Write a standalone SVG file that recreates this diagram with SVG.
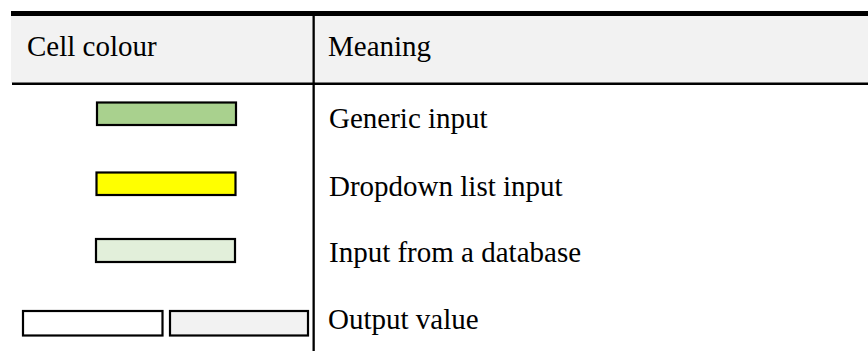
<svg xmlns="http://www.w3.org/2000/svg" width="868" height="351" viewBox="0 0 868 351">
<style>
text{font-family:"Liberation Serif","Times New Roman",serif;font-size:29px;fill:#000}
.sw{stroke:#000;stroke-width:2.2}
</style>
<rect width="868" height="351" fill="#fff"/>
<g id="table">
<rect x="11" y="16" width="857" height="67" fill="#f2f2f2"/>
<rect x="11" y="11" width="857" height="5" fill="#000"/>
<rect x="12" y="82.5" width="856" height="2.5" fill="#000"/>
<rect x="312.5" y="14" width="2.3" height="337" fill="#000"/>
</g>
<g id="header">
<text x="27" y="56">Cell colour</text>
<text x="328" y="56">Meaning</text>
</g>
<g id="row-generic">
<rect class="sw" x="97" y="102.5" width="139" height="22.5" fill="#a9d18e"/>
<text x="329" y="128">Generic input</text>
</g>
<g id="row-dropdown">
<rect class="sw" x="96.5" y="172.5" width="139" height="22.5" fill="#ffff00"/>
<text x="329" y="196">Dropdown list input</text>
</g>
<g id="row-database">
<rect class="sw" x="96" y="239" width="139" height="23" fill="#e2efda"/>
<text x="329" y="262">Input from a database</text>
</g>
<g id="row-output">
<rect class="sw" x="23" y="311" width="139.5" height="24.5" fill="#ffffff"/>
<rect class="sw" x="170" y="311" width="138" height="24.5" fill="#f2f2f2"/>
<text x="328" y="329">Output value</text>
</g>
</svg>
